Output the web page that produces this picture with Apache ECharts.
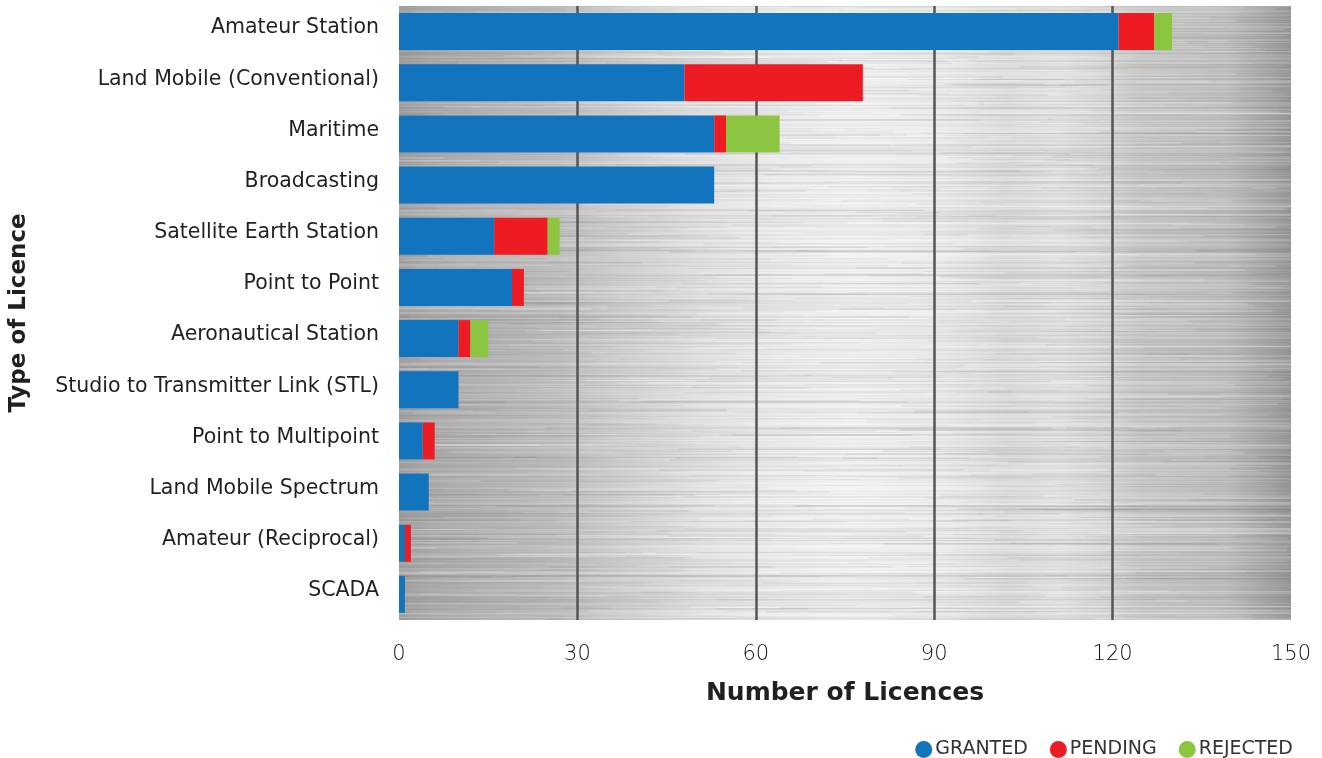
<!DOCTYPE html>
<html>
<head>
<meta charset="utf-8">
<title>Licences by Type</title>
<script src="https://cdn.jsdelivr.net/npm/echarts@6/dist/echarts.min.js"></script>
<style>
  html, body { margin: 0; padding: 0; background: #ffffff; }
  #chart { width: 1322px; height: 758px; }
</style>
</head>
<body>
<div id="chart"></div>
<script>
// Licence types, listed top to bottom
const categories = [
  'Amateur Station',
  'Land Mobile (Conventional)',
  'Maritime',
  'Broadcasting',
  'Satellite Earth Station',
  'Point to Point',
  'Aeronautical Station',
  'Studio to Transmitter Link (STL)',
  'Point to Multipoint',
  'Land Mobile Spectrum',
  'Amateur (Reciprocal)',
  'SCADA'
];

// Number of licences per status
const granted  = [121, 48, 53, 53, 16, 19, 10, 10, 4, 5, 1, 1];
const pending  = [6, 30, 2, 0, 9, 2, 2, 0, 2, 0, 1, 0];
const rejected = [3, 0, 9, 0, 2, 0, 3, 0, 0, 0, 0, 0];

const xTicks = { min: 0, max: 150, interval: 30 };

const GRID = { left: 399, right: 31, top: 6, bottom: 138 };
const CW = 1322, CH = 758;
const FONT = '"DejaVu Sans", "Noto Sans", sans-serif';

// Brushed-metal backdrop for the plotting area
function brushedMetal(w, h) {
  const c = document.createElement('canvas');
  c.width = w; c.height = h;
  const ctx = c.getContext('2d');
  const g = ctx.createLinearGradient(0, 0, w, 0);
  const stops = [
    [0.00, '#9e9e9e'], [0.035, '#a8a8a8'], [0.09, '#b0b0b0'],
    [0.18, '#bcbcbc'], [0.25, '#cfcfcf'], [0.34, '#e2e2e2'],
    [0.43, '#ededed'], [0.51, '#f2f2f2'], [0.61, '#ebebeb'],
    [0.68, '#dcdcdc'], [0.74, '#e2e2e2'], [0.79, '#d6d6d6'],
    [0.83, '#c6c6c6'], [0.93, '#bbbbbb'], [1.00, '#969696']
  ];
  stops.forEach(s => g.addColorStop(s[0], s[1]));
  ctx.fillStyle = g;
  ctx.fillRect(0, 0, w, h);
  // soft horizontal streaks
  let seed = 7654321;
  const rnd = () => { seed = (seed * 1103515245 + 12345) % 2147483648; return seed / 2147483648; };
  for (let y = 0; y < h; y++) {
    const a = rnd() * 0.06;
    ctx.fillStyle = rnd() < 0.5 ? 'rgba(255,255,255,' + a + ')' : 'rgba(110,105,105,' + a + ')';
    ctx.fillRect(0, y, w, 1);
  }
  for (let i = 0; i < 2600; i++) {
    const y = Math.floor(rnd() * h);
    const x = rnd() * w - 150;
    const len = 80 + rnd() * 500;
    const light = rnd() < 0.55;
    ctx.fillStyle = light ? 'rgba(255,255,255,' + (0.04 + rnd() * 0.12) + ')'
                          : 'rgba(100,95,95,' + (0.02 + rnd() * 0.07) + ')';
    ctx.fillRect(x, y, len, 1 + Math.floor(rnd() * 2));
  }
  return c;
}

const gw = CW - GRID.left - GRID.right;
const gh = CH - GRID.top - GRID.bottom;

const chart = echarts.init(document.getElementById('chart'), null, { renderer: 'canvas' });

function barSeries(name, data, color) {
  return {
    name: name,
    type: 'bar',
    stack: 'total',
    data: data,
    barWidth: 37,
    itemStyle: { color: color },
    emphasis: { disabled: true },
    z: 2
  };
}

chart.setOption({
  animation: false,
  textStyle: { fontFamily: FONT },
  grid: GRID,
  graphic: [{
    type: 'image',
    left: GRID.left,
    top: GRID.top,
    z: 0,
    silent: true,
    style: { image: brushedMetal(gw, gh), width: gw, height: gh }
  }],
  legend: {
    right: 24,
    top: 735,
    icon: 'circle',
    itemWidth: 17,
    itemHeight: 17,
    itemGap: 22,
    textStyle: { fontFamily: FONT, fontSize: 19, color: '#333333', padding: [0, 0, 0, -2] },
    data: ['GRANTED', 'PENDING', 'REJECTED']
  },
  xAxis: {
    type: 'value',
    min: xTicks.min,
    max: xTicks.max,
    interval: xTicks.interval,
    z: 1,
    name: 'Number of Licences',
    nameLocation: 'middle',
    nameGap: 61,
    nameTextStyle: { fontFamily: FONT, fontSize: 25, fontWeight: 'bold', color: '#231f20' },
    axisLine: { show: false },
    axisTick: { show: false },
    axisLabel: { margin: 24, fontFamily: FONT, fontSize: 21, color: '#111111', fontWeight: 200 },
    splitLine: {
      show: true,
      showMinLine: false,
      showMaxLine: false,
      lineStyle: { color: '#555555', width: 2.5 }
    }
  },
  yAxis: {
    type: 'category',
    inverse: true,
    data: categories,
    name: 'Type of Licence',
    nameLocation: 'middle',
    nameRotate: 90,
    nameGap: 368,
    nameTextStyle: { fontFamily: FONT, fontSize: 23, fontWeight: 'bold', color: '#231f20' },
    axisLine: { show: false },
    axisTick: { show: false },
    axisLabel: {
      margin: 20,
      formatter: '{t|{value}}',
      rich: {
        t: { fontFamily: FONT, fontSize: 20.5, color: '#231f20', padding: [0, 0, 7, 0] }
      }
    }
  },
  series: [
    barSeries('GRANTED', granted, '#1174bc'),
    barSeries('PENDING', pending, '#ed1c24'),
    barSeries('REJECTED', rejected, '#8cc53f')
  ]
});
</script>
</body>
</html>
